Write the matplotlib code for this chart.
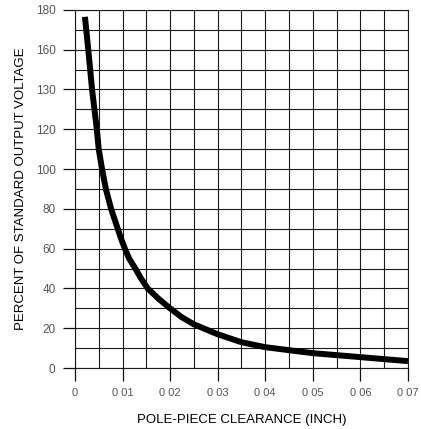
import matplotlib
matplotlib.use("Agg")
import matplotlib.pyplot as plt
import numpy as np

# Data
clearance = [0.0021, 0.0028, 0.0036, 0.0046, 0.0050, 0.0057, 0.0065, 0.0076,
             0.0083, 0.0090, 0.0097, 0.0105, 0.0114, 0.0127, 0.0139, 0.0153,
             0.0175, 0.0200, 0.0225, 0.0250, 0.0300, 0.0350, 0.0400,
             0.0450, 0.0500, 0.0550, 0.0600, 0.0650, 0.0700]
percent = [176.5, 160, 140, 120, 110, 100, 90, 80,
           75, 70, 65, 60, 55, 50, 45, 40,
           35, 30, 25.5, 22, 17, 13, 10.5,
           9, 7.5, 6.5, 5.5, 4.5, 3.5]

y_ticks = [0, 20, 40, 60, 80, 100, 120, 140, 160, 180]
y_tick_labels = ["0", "20", "40", "60", "80", "100", "120", "130", "160", "180"]
x_ticks = [0, 0.01, 0.02, 0.03, 0.04, 0.05, 0.06, 0.07]
x_tick_labels = ["0", "0 01", "0 02", "0 03", "0 04", "0 05", "0 06", "0 07"]

plt.rcParams['font.family'] = ['Liberation Sans', 'DejaVu Sans']

fig = plt.figure(figsize=(4.21, 4.29), dpi=100)
ax = fig.add_axes([0.178, 0.142, 0.791, 0.835])

ax.set_xlim(0, 0.07)
ax.set_ylim(0, 180)

ax.set_xticks(x_ticks)
ax.set_xticklabels(x_tick_labels, color='#555555', fontsize=8)
ax.set_yticks(y_ticks)
ax.set_yticklabels(y_tick_labels, color='#555555', fontsize=8.5)
ax.set_xticks(np.arange(0, 0.0701, 0.005), minor=True)
ax.set_yticks(np.arange(0, 181, 10), minor=True)

ax.tick_params(axis='both', which='major', length=9, width=0.9, color='#111111', pad=5)
ax.tick_params(axis='both', which='minor', length=0)

ax.grid(True, which='both', color='#1a1a1a', linewidth=0.8)
ax.set_axisbelow(True)
for s in ax.spines.values():
    s.set_color('#1a1a1a')
    s.set_linewidth(0.8)

ax.plot(clearance, percent, color='black', linewidth=4.3,
        solid_capstyle='butt', solid_joinstyle='round', zorder=5)

ax.set_xlabel("POLE-PIECE CLEARANCE (INCH)", fontsize=9.5, labelpad=12)
ax.set_ylabel("PERCENT OF STANDARD OUTPUT VOLTAGE", fontsize=9.5, labelpad=6)

fig.savefig("out.png", dpi=100)
